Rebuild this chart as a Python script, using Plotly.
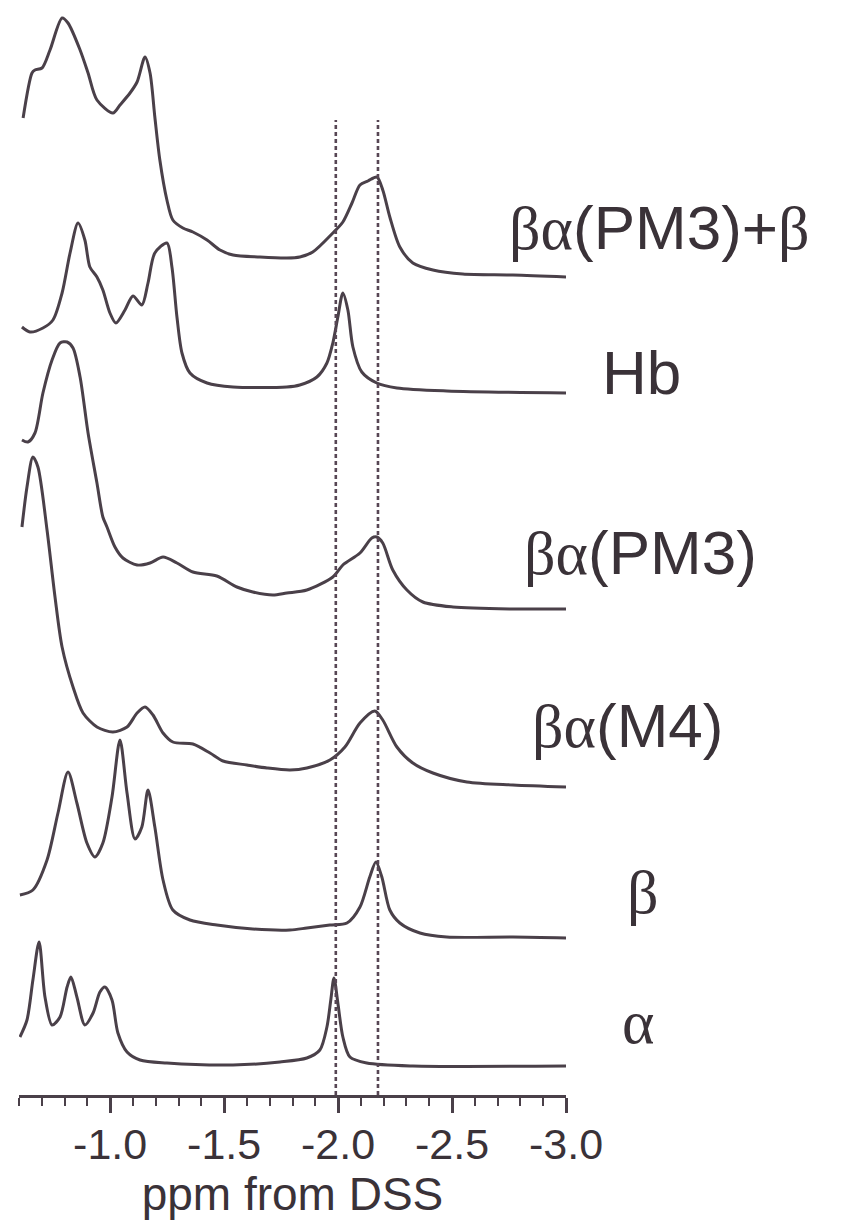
import plotly.graph_objects as go

# ---- spectra: chemical shift (ppm) and intensity above each trace's own baseline ----
labels = ["βα(PM3)+β", "Hb", "βα(PM3)", "βα(M4)", "β", "α"]

ppm_pm3_plus_beta = [-0.618, -0.657, -0.670, -0.701, -0.736, -0.789, -0.815, -0.868, -0.903, -0.942,
                     -1.012, -1.043, -1.087, -1.118, -1.153, -1.175, -1.196, -1.218, -1.249, -1.275,
                     -1.319, -1.363, -1.425, -1.482, -1.539, -1.657, -1.775, -1.832, -1.889, -1.977,
                     -2.021, -2.061, -2.096, -2.131, -2.170, -2.196, -2.227, -2.271, -2.328, -2.416,
                     -2.547, -2.767, -3.000]
int_pm3_plus_beta = [159, 204, 207, 209, 227, 259, 254, 227, 204, 177,
                     164, 172, 184, 195, 220, 204, 160, 117, 77, 57,
                     49, 45, 37, 27, 22, 20, 19, 20, 25, 44,
                     55, 74, 92, 96, 100, 87, 60, 30, 14, 7,
                     3, 2, 0]

ppm_hb = [-0.613, -0.648, -0.705, -0.749, -0.789, -0.824, -0.859, -0.889, -0.911, -0.942,
          -0.968, -0.999, -1.025, -1.065, -1.100, -1.139, -1.166, -1.196, -1.249, -1.271,
          -1.293, -1.315, -1.350, -1.425, -1.539, -1.775, -1.832, -1.907, -1.951, -1.977,
          -1.999, -2.021, -2.043, -2.065, -2.104, -2.170, -2.258, -2.477, -3.000]
int_hb = [66, 61, 65, 73, 100, 140, 170, 153, 126, 116,
          103, 80, 70, 83, 97, 88, 110, 140, 150, 126,
          76, 40, 20, 10, 6, 6, 8, 16, 30, 50,
          76, 100, 83, 46, 21, 10, 5, 2, 0]

ppm_pm3 = [-0.613, -0.639, -0.670, -0.705, -0.745, -0.780, -0.811, -0.837, -0.868, -0.903,
           -0.942, -0.968, -0.986, -1.021, -1.056, -1.118, -1.175, -1.232, -1.293, -1.363,
           -1.468, -1.556, -1.626, -1.714, -1.775, -1.863, -1.977, -2.021, -2.096, -2.148,
           -2.170, -2.196, -2.240, -2.302, -2.372, -2.504, -2.767, -3.000]
int_pm3 = [169, 167, 176, 216, 249, 266, 267, 261, 232, 176,
           126, 92, 82, 62, 51, 44, 46, 52, 46, 37,
           33, 22, 17, 14, 16, 19, 32, 44, 56, 71,
           72, 66, 39, 19, 7, 2, 0, 0]

ppm_m4 = [-0.613, -0.635, -0.661, -0.683, -0.723, -0.758, -0.789, -0.837, -0.881, -0.942,
          -1.012, -1.074, -1.118, -1.153, -1.188, -1.232, -1.275, -1.363, -1.438, -1.495,
          -1.600, -1.688, -1.789, -1.863, -1.964, -2.030, -2.096, -2.161, -2.196, -2.258,
          -2.328, -2.416, -2.565, -2.767, -3.000]
int_m4 = [260, 300, 330, 320, 257, 190, 140, 100, 74, 60,
          55, 60, 74, 80, 72, 54, 45, 43, 34, 26,
          22, 19, 17, 19, 27, 40, 64, 76, 67, 40,
          24, 14, 5, 2, 0]

ppm_beta = [-0.604, -0.661, -0.723, -0.771, -0.815, -0.854, -0.898, -0.933, -0.968, -1.008,
            -1.043, -1.074, -1.109, -1.139, -1.166, -1.196, -1.232, -1.275, -1.350, -1.468,
            -1.626, -1.789, -1.863, -1.964, -2.039, -2.096, -2.139, -2.166, -2.192, -2.227,
            -2.271, -2.359, -2.477, -2.767, -3.000]
int_beta = [43, 48, 78, 125, 166, 135, 95, 81, 95, 141,
            198, 145, 99, 111, 148, 111, 58, 28, 18, 13,
            9, 8, 10, 13, 15, 31, 61, 76, 61, 28,
            15, 5, 1, 1, 0]

ppm_alpha = [-0.604, -0.635, -0.661, -0.688, -0.714, -0.745, -0.780, -0.811, -0.828, -0.854,
             -0.889, -0.925, -0.955, -0.977, -1.008, -1.034, -1.074, -1.131, -1.249, -1.539,
             -1.745, -1.863, -1.920, -1.951, -1.968, -1.982, -1.999, -2.021, -2.052, -2.126,
             -2.328, -3.000]
int_alpha = [29, 46, 86, 124, 69, 41, 49, 79, 89, 69,
             41, 53, 74, 79, 66, 33, 14, 6, 3, 1,
             4, 8, 16, 39, 66, 88, 63, 29, 9, 3,
             0, 0]

# reference shifts marked with dotted lines
ref_shifts = [-1.99, -2.175]

# x axis ticks
tick_vals = [-1.0, -1.5, -2.0, -2.5, -3.0]
tick_text = ["-1.0", "-1.5", "-2.0", "-2.5", "-3.0"]

# ---- layout constants ----
LINE = "#4a4049"
DOT = "#574654"
TEXT = "#3a3238"
FONT = "Liberation Sans, Arial, sans-serif"
stack_offsets = [818, 702, 486, 308, 157, 29]
label_pos = [(0.892, 868), (1.062, 723), (0.920, 543), (0.934, 370), (1.108, 203), (1.099, 73)]

spectra = [
    (ppm_pm3_plus_beta, int_pm3_plus_beta),
    (ppm_hb, int_hb),
    (ppm_pm3, int_pm3),
    (ppm_m4, int_m4),
    (ppm_beta, int_beta),
    (ppm_alpha, int_alpha),
]

fig = go.Figure()

for (ppm, inten), off in zip(spectra, stack_offsets):
    fig.add_trace(go.Scatter(
        x=ppm, y=[v + off for v in inten], mode="lines",
        line=dict(color=LINE, width=3, shape="spline", smoothing=0.8),
        showlegend=False, hoverinfo="skip", cliponaxis=False,
    ))

for s in ref_shifts:
    fig.add_shape(type="line", xref="x", yref="y", x0=s, x1=s, y0=0, y1=975,
                  line=dict(color=DOT, width=2.6, dash="4px,3px"))

GREEK = "font-family:'Liberation Serif','DejaVu Serif',serif"


def fmt(label):
    out = ""
    for ch in label:
        if ch in "αβ":
            out += f"<span style=\"{GREEK}\">{ch}</span>"
        else:
            out += ch
    return out


for lab, (px, py) in zip(labels, label_pos):
    fig.add_annotation(text=fmt(lab), xref="paper", yref="y", x=px, y=py,
                       xanchor="left", yanchor="middle", showarrow=False,
                       font=dict(family=FONT, size=62, color=TEXT))

minor_vals = [round(-0.6 - 0.1 * i, 1) for i in range(25)]

fig.update_xaxes(
    range=[-0.6, -3.0], autorange=False,
    tickmode="array", tickvals=tick_vals, ticktext=tick_text,
    ticks="outside", ticklen=15, tickwidth=2.8, tickcolor=LINE,
    minor=dict(tickvals=minor_vals, ticks="outside", ticklen=8, tickwidth=2.4, tickcolor=LINE),
    showline=True, linecolor=LINE, linewidth=3,
    showgrid=False, zeroline=False,
    ticklabelstandoff=-6,
    tickfont=dict(family=FONT, size=43, color=TEXT),
    title=dict(text="ppm from DSS", standoff=0,
               font=dict(family=FONT, size=46, color=TEXT)),
)
fig.update_yaxes(range=[0, 1095], autorange=False, visible=False, showgrid=False, zeroline=False)

fig.update_layout(
    width=841, height=1225,
    margin=dict(l=19, r=275, t=0, b=130, autoexpand=False),
    paper_bgcolor="white", plot_bgcolor="white",
)

fig.write_html("out.html")
